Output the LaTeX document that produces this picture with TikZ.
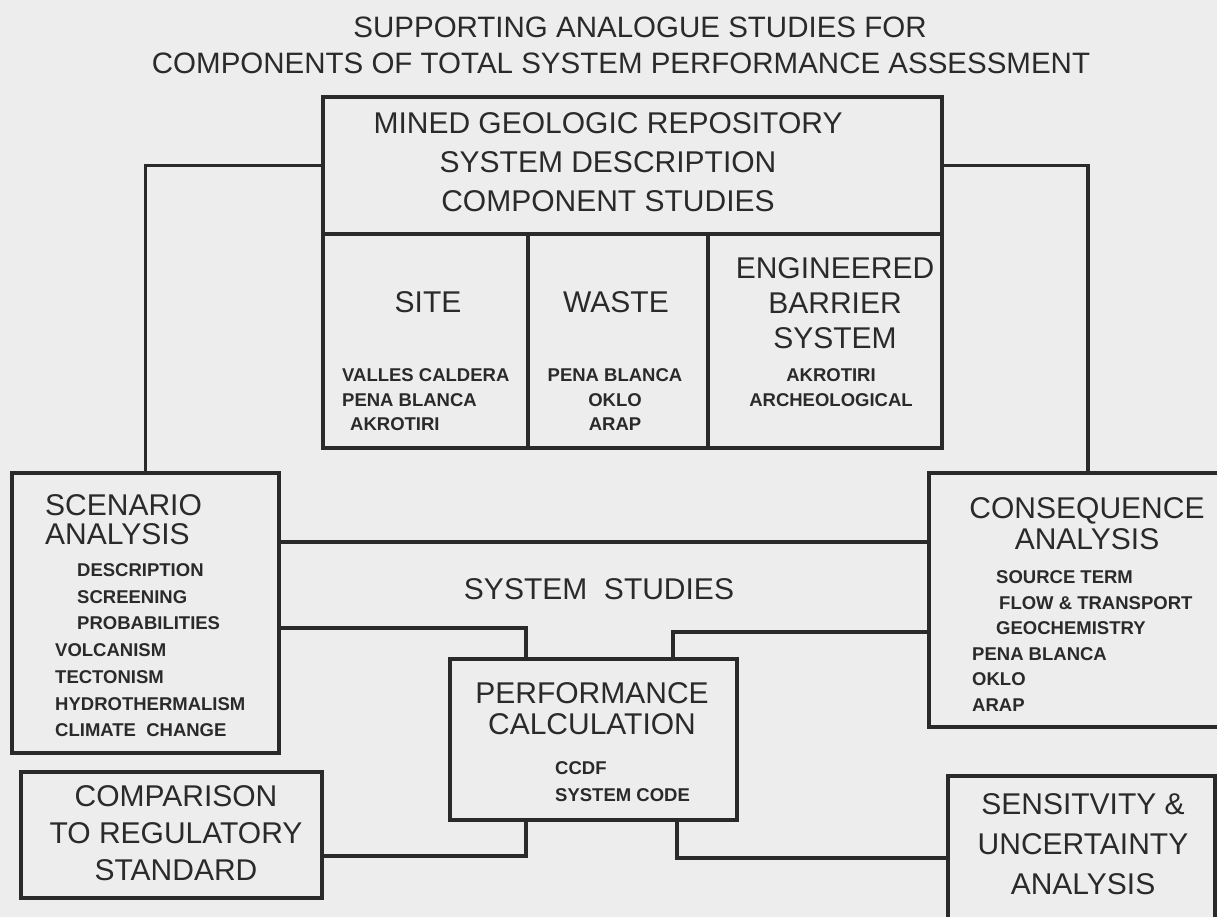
\documentclass[tikz,border=0pt]{standalone}
\usepackage{fontspec}
\setmainfont{Liberation Sans}
\definecolor{bgc}{RGB}{237,237,237}
\definecolor{ink}{RGB}{42,42,42}
\begin{document}
\begin{tikzpicture}[x=1pt,y=-1pt,
  box/.style={draw=ink, line width=3.2pt, rectangle, inner sep=0pt, outer sep=0pt, anchor=north west},
  conn/.style={draw=ink, line width=3.2pt},
  titletxt/.style={text=ink, inner sep=0pt, anchor=north, font=\fontsize{29.5}{36}\selectfont},
  bigtxt/.style={text=ink, inner sep=0pt, align=center, font=\fontsize{30}{#1}\selectfont},
  smalltxt/.style={text=ink, inner sep=0pt, font=\bfseries\fontsize{18.5}{#1}\selectfont}]
\useasboundingbox (0,0) rectangle (1217,917);
\fill[bgc] (0,0) rectangle (1217,917);
\clip (0,0) rectangle (1217,917);

% title
\node[titletxt] (t1) at (640,17) {SUPPORTING ANALOGUE STUDIES FOR};
\node[titletxt] (t2) at (621,52.5) {COMPONENTS OF TOTAL SYSTEM PERFORMANCE ASSESSMENT};

% boxes
\node[box, minimum width=619pt, minimum height=137pt] (hdr) at (323,97) {};
\node[box, minimum width=205pt, minimum height=214pt] (site) at (323,234) {};
\node[box, minimum width=180pt, minimum height=214pt] (waste) at (528,234) {};
\node[box, minimum width=234pt, minimum height=214pt] (ebs) at (708,234) {};
\node[box, minimum width=267pt, minimum height=280pt] (scen) at (12,473) {};
\node[box, minimum width=301pt, minimum height=126pt] (comp) at (21,772) {};
\node[box, minimum width=287pt, minimum height=161pt] (perf) at (450,659) {};
\node[box, minimum width=293pt, minimum height=254pt] (cons) at (929,473) {};
\node[box, minimum width=267pt, minimum height=149pt] (sens) at (948,776) {};

% connectors
\draw[conn] (hdr.west) -| (scen.north);
\draw[conn] (hdr.east) -| ([xshift=159pt]cons.north west);
\draw[conn] ([yshift=-69pt]scen.north east) -- ([yshift=-69pt]cons.north west);
\draw[conn] ([yshift=-155pt]scen.north east) -| ([xshift=76pt]perf.north west);
\draw[conn] ([yshift=-159pt]cons.north west) -| ([xshift=223pt]perf.north west);
\draw[conn] ([yshift=-84pt]comp.north east) -| ([xshift=76pt]perf.south west);
\draw[conn] ([xshift=227pt]perf.south west) |- ([yshift=-82pt]sens.north west);

% texts
\node[bigtxt=39, anchor=north] (hdrt) at (608,112) {MINED GEOLOGIC REPOSITORY\\SYSTEM DESCRIPTION\\COMPONENT STUDIES};
\node[bigtxt=35, anchor=north] (sitet) at (428,291) {SITE};
\node[smalltxt=24.5, anchor=north west, align=left] (sitel) at (342,368.4) {VALLES CALDERA\\PENA BLANCA\\\hspace*{8pt}AKROTIRI};
\node[bigtxt=35, anchor=north] (wastet) at (616,291) {WASTE};
\node[smalltxt=24.5, anchor=north, align=center] (wastel) at (615,368.4) {PENA BLANCA\\OKLO\\ARAP};
\node[bigtxt=35, anchor=north] (ebst) at (835,257) {ENGINEERED\\BARRIER\\SYSTEM};
\node[smalltxt=25, anchor=north, align=center] (ebsl) at (831,368.4) {AKROTIRI\\ARCHEOLOGICAL};

\node[bigtxt=29, anchor=north west, align=left] (scent) at (45,494) {SCENARIO\\ANALYSIS};
\node[smalltxt=26.7, anchor=north west, align=left] (scenl) at (55,563.4) {\hspace*{22pt}DESCRIPTION\\\hspace*{22pt}SCREENING\\\hspace*{22pt}PROBABILITIES\\VOLCANISM\\TECTONISM\\HYDROTHERMALISM\\CLIMATE~~CHANGE};

\node[bigtxt=30, anchor=north] (sst) at (599,578) {SYSTEM~~STUDIES};

\node[bigtxt=31, anchor=north] (perft) at (592,682) {PERFORMANCE\\CALCULATION};
\node[smalltxt=27, anchor=north west, align=left] (perfl) at (555,761.4) {CCDF\\SYSTEM CODE};

\node[bigtxt=37, anchor=north] (compt) at (176,785) {COMPARISON\\TO REGULATORY\\STANDARD};

\node[bigtxt=31, anchor=north] (const) at (1087,497) {CONSEQUENCE\\ANALYSIS};
\node[smalltxt=25.6, anchor=north west, align=left] (consl) at (972,570.4) {\hspace*{24pt}SOURCE TERM\\\hspace*{27pt}FLOW \& TRANSPORT\\\hspace*{24pt}GEOCHEMISTRY\\PENA BLANCA\\OKLO\\ARAP};

\node[bigtxt=40, anchor=north] (senst) at (1083,793) {SENSITVITY \&\\UNCERTAINTY\\ANALYSIS};
\end{tikzpicture}
\end{document}
